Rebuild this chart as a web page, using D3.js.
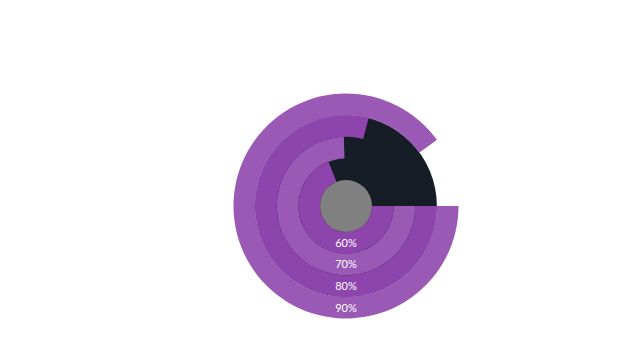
<!DOCTYPE html>
<html>
<head>
<meta charset="utf-8">
<script src="https://d3js.org/d3.v7.min.js"></script>
<style>
  body { margin: 0; background: #ffffff; }
  svg { display: block; }
</style>
</head>
<body>
<script>
// rings from inside out
var labels = ["60%", "70%", "80%", "90%"];
var values = [69, 74.5, 79, 90];

var width = 640,
    height = 360,
    cx = 346,
    cy = 206,
    innerR = 26,
    outerR = 112.5;

var colors = ["#8e44ad", "#9b59b6"];

var svg = d3.select("body").append("svg")
    .attr("width", width)
    .attr("height", height);

var g = svg.append("g")
    .attr("transform", "translate(" + cx + "," + cy + ")");

// band scale for the rings
var r = d3.scaleBand()
    .domain(labels)
    .range([innerR, outerR])
    .paddingInner(0);

// angle scale, starts at 3 o'clock
var a = d3.scaleLinear()
    .domain([0, 100])
    .range([Math.PI / 2, Math.PI / 2 + 2 * Math.PI]);

// dark background disc under the inner three rings
g.append("circle")
    .attr("r", r(labels[2]) + r.bandwidth())
    .attr("fill", "#161d27");

var arc = d3.arc()
    .innerRadius(function(d) { return r(d.label); })
    .outerRadius(function(d) { return r(d.label) + r.bandwidth(); })
    .startAngle(a(0))
    .endAngle(function(d) { return a(d.value); });

var data = labels.map(function(l, i) { return {label: l, value: values[i], i: i}; });

g.selectAll(".ring")
    .data(data)
  .enter().append("path")
    .attr("class", "ring")
    .attr("d", arc)
    .attr("fill", function(d) { return colors[d.i % 2]; });

// grey hub
g.append("circle")
    .attr("r", innerR)
    .attr("fill", "#808080");

g.selectAll(".lbl")
    .data(data)
  .enter().append("text")
    .attr("class", "lbl")
    .attr("x", 0)
    .attr("y", function(d) { return r(d.label) + r.bandwidth() / 2; })
    .attr("dy", "0.35em")
    .attr("text-anchor", "middle")
    .style("font-family", "Lato, 'Open Sans', sans-serif")
    .style("font-size", "11px")
    .style("fill", "#ffffff")
    .text(function(d) { return d.label; });
</script>
</body>
</html>
